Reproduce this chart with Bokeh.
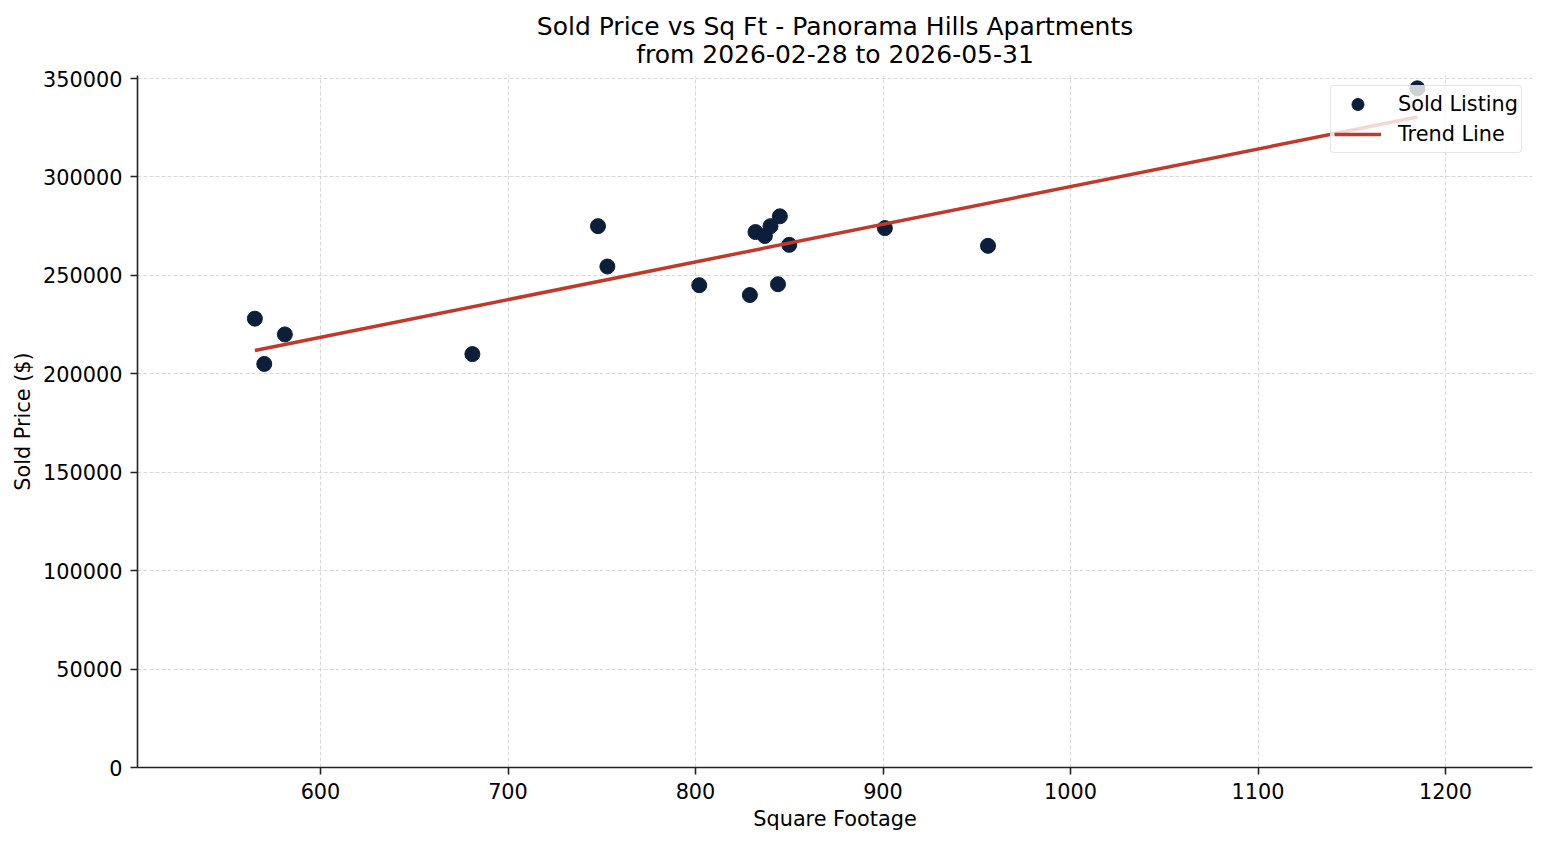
import numpy as np
from bokeh.plotting import figure
from bokeh.models import (ColumnDataSource, Range1d, FixedTicker, BasicTickFormatter,
                          Legend, LegendItem, Title)
from bokeh.embed import file_html
from bokeh.resources import INLINE

sqft = [565, 570, 581, 681, 748, 753, 802, 829, 832, 837, 840, 844, 845, 850, 901, 956, 1185]
price = [228000, 205000, 220000, 210000, 275000, 254500, 245000, 240000, 272000, 270000,
         275000, 245500, 280000, 265500, 274000, 265000, 345000]
x_ticks = [600, 700, 800, 900, 1000, 1100, 1200]
y_ticks = [0, 50000, 100000, 150000, 200000, 250000, 300000, 350000]
title_1 = "Sold Price vs Sq Ft - Panorama Hills Apartments"
title_2 = "from 2026-02-28 to 2026-05-31"

FONT = "DejaVu Sans"
TXT = "20.8px"

coef = np.polyfit(sqft, price, 1)
tx = [min(sqft), max(sqft)]
ty = [coef[0] * v + coef[1] for v in tx]

p = figure(width=1547, height=845, output_backend="svg", toolbar_location=None,
           x_range=Range1d(502.4, 1246.4), y_range=Range1d(0, 351524),
           min_border_left=137, min_border_right=15, min_border_top=75, min_border_bottom=78)

p.title.text = title_1
p.title.align = "center"
p.title.text_font = FONT
p.title.text_font_size = "25px"
p.title.text_font_style = "normal"
p.title.text_color = "black"
p.title.offset = 0
p.title.standoff = -20

t2 = Title(text=title_2, align="center", text_font=FONT, text_font_size="25px",
           text_font_style="normal", text_color="black", standoff=14)
p.add_layout(t2, "above")

p.outline_line_color = None
p.background_fill_color = "white"
p.border_fill_color = "white"

for ax in (p.xaxis[0], p.yaxis[0]):
    ax.axis_line_color = "#222222"
    ax.axis_line_width = 1.6
    ax.major_tick_line_color = "#222222"
    ax.major_tick_line_width = 1.6
    ax.major_tick_out = 7
    ax.major_tick_in = 0
    ax.minor_tick_line_color = None
    ax.major_label_text_font = FONT
    ax.major_label_text_font_size = TXT
    ax.major_label_text_color = "black"
    ax.axis_label_text_font = FONT
    ax.axis_label_text_font_size = TXT
    ax.axis_label_text_font_style = "normal"
    ax.axis_label_text_color = "black"

p.xaxis[0].ticker = FixedTicker(ticks=x_ticks)
p.yaxis[0].ticker = FixedTicker(ticks=y_ticks)
p.yaxis[0].formatter = BasicTickFormatter(use_scientific=False)
p.xaxis[0].axis_label = "Square Footage"
p.yaxis[0].axis_label = "Sold Price ($)"
p.xaxis[0].major_label_standoff = 8
p.yaxis[0].major_label_standoff = 8
p.xaxis[0].axis_label_standoff = 5
p.yaxis[0].axis_label_standoff = 5

for g in (p.xgrid[0], p.ygrid[0]):
    g.grid_line_color = "#c8c8c8"
    g.grid_line_dash = "4 2"
    g.grid_line_width = 0.8
    g.grid_line_alpha = 0.9

src = ColumnDataSource(dict(x=sqft, y=price))
pts = p.scatter("x", "y", source=src, size=15, marker="circle",
                fill_color="#0b1f3a", line_color="#0b1f3a")
ln = p.line(tx, ty, line_color="#c0392b", line_width=3.5)

legend = Legend(items=[LegendItem(label="Sold Listing", renderers=[pts]),
                       LegendItem(label="Trend Line", renderers=[ln])],
                location="top_right")
legend.label_text_font = FONT
legend.label_text_font_size = TXT
legend.label_text_color = "black"
legend.background_fill_alpha = 0.8
legend.border_line_color = "#cccccc"
legend.border_line_width = 1.2
legend.border_radius = 4
legend.margin = 10
legend.padding = 3
legend.spacing = 0
legend.glyph_height = 30
legend.glyph_width = 47
legend.label_standoff = 17
legend.label_height = 20
p.add_layout(legend, "center")

open("out.html", "w").write(file_html(p, INLINE))
